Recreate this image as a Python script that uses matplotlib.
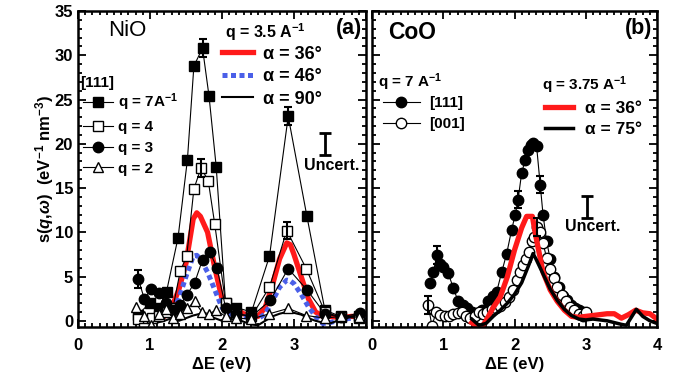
import matplotlib.pyplot as plt
from matplotlib.lines import Line2D
from matplotlib.ticker import MultipleLocator

plt.rcParams['font.family'] = ['Liberation Sans', 'DejaVu Sans']
plt.rcParams['font.weight'] = 'bold'
plt.rcParams['axes.labelweight'] = 'bold'
plt.rcParams['mathtext.fontset'] = 'custom'
plt.rcParams['mathtext.rm'] = 'Liberation Sans:bold'
plt.rcParams['mathtext.it'] = 'Liberation Sans:italic:bold'
plt.rcParams['mathtext.bf'] = 'Liberation Sans:bold'

# ---- NiO (a): measured spectra along [111]
q7_x = [0.83, 1.0, 1.13, 1.23, 1.39, 1.52, 1.61, 1.73, 1.82, 1.92, 2.05, 2.2, 2.41, 2.66, 2.92, 3.18, 3.43, 3.65, 3.9]
q7_y = [0.7, 2.0, 1.5, 3.3, 9.4, 18.2, 28.8, 30.8, 25.4, 17.4, 2.0, 1.5, 1.0, 7.3, 23.1, 11.8, 1.2, 0.5, 0.5]
q4_x = [0.83, 0.92, 1.03, 1.13, 1.23, 1.32, 1.42, 1.51, 1.61, 1.71, 1.81, 1.90, 2.05, 2.2, 2.41, 2.66, 2.90, 3.17, 3.43, 3.65, 3.9]
q4_y = [0.2, -0.8, 0.3, 0.5, 1.0, 1.5, 5.6, 7.3, 14.9, 17.3, 15.8, 10.9, 2.0, 0.8, 0.5, 3.8, 10.2, 5.9, 1.0, 0.4, 0.3]
q3_x = [0.84, 0.92, 1.02, 1.12, 1.22, 1.32, 1.42, 1.51, 1.62, 1.73, 1.83, 1.93, 2.05, 2.2, 2.41, 2.67, 2.92, 3.18, 3.43, 3.65, 3.92]
q3_y = [4.7, 2.5, 3.6, 3.1, 2.0, 1.2, 1.8, 2.9, 4.3, 6.9, 7.8, 6.0, 1.5, 0.8, 0.5, 2.3, 5.9, 3.5, 0.8, 0.4, 0.9]
q2_x = [0.81, 0.92, 1.02, 1.12, 1.22, 1.32, 1.42, 1.52, 1.62, 1.72, 1.82, 1.92, 2.05, 2.2, 2.41, 2.66, 2.92, 3.17, 3.43, 3.65, 3.9]
q2_y = [1.6, 0.5, -0.5, 0.8, 1.3, 0.3, 0.8, 1.4, 2.2, 1.0, 0.8, 1.2, 0.5, 0.3, 0.2, 0.8, 1.4, 0.6, 0.3, 0.5, 0.4]

# NiO calculations, q = 3.5 A^-1
th_x = [1.0, 1.1, 1.2, 1.3, 1.4, 1.5, 1.6, 1.65, 1.7, 1.8, 1.9, 2.0, 2.1, 2.2, 2.3, 2.4, 2.5, 2.6,
        2.7, 2.8, 2.9, 2.95, 3.0, 3.1, 3.2, 3.3, 3.4, 3.5, 3.6, 3.7, 3.8, 3.9, 4.0]
a36_y = [0.2, 0.3, 0.5, 1.5, 3.5, 6.5, 11.5, 12.2, 11.8, 10.0, 6.0, 2.5, 1.5, 1.3, 0.8, 0.5, 0.5, 1.5,
         4.0, 7.0, 8.8, 8.6, 7.5, 5.0, 2.5, 1.0, 0.5, 0.5, 0.4, 0.4, 0.5, 0.5, 0.5]
a46_y = [0.2, 0.3, 0.4, 1.0, 2.5, 5.0, 7.3, 7.4, 7.0, 5.5, 3.5, 1.5, 0.8, 0.6, 0.5, 0.3, 0.2, 0.8,
         2.2, 3.8, 4.6, 4.5, 4.2, 3.0, 1.6, 0.5, -0.3, -0.2, 0.0, 0.2, 0.3, 0.2, 0.2]
a90_y = [0.2, -0.2, 0.0, 0.3, 0.0, 0.3, 0.6, 0.7, 0.8, 0.6, 0.3, 0.0, 0.3, 0.2, -0.1, -0.4, -0.5, 0.0,
         0.5, 0.8, 1.0, 1.0, 0.9, 0.7, 0.3, 0.0, -0.2, -0.3, 0.0, 0.2, 0.5, 0.6, 0.2]

# ---- CoO (b): measured spectra at q = 7 A^-1
c111_x = [0.81, 0.86, 0.91, 0.96, 1.0, 1.07, 1.14, 1.21, 1.27, 1.33, 1.40, 1.47, 1.55, 1.63, 1.70, 1.75,
          1.82, 1.89, 1.96, 2.01, 2.05, 2.10, 2.15, 2.19, 2.23, 2.26, 2.31, 2.36, 2.40, 2.45, 2.50,
          2.56, 2.62, 2.68, 2.73, 2.79, 2.85, 2.91, 2.96]
c111_y = [4.3, 5.5, 7.4, 6.4, 6.1, 5.4, 3.7, 2.2, 1.8, 1.4, 1.0, 0.8, 1.2, 2.2, 2.8, 3.3,
          5.5, 7.6, 10.3, 12.0, 13.7, 16.7, 18.2, 19.3, 19.9, 20.1, 19.7, 15.4, 12.0, 9.0, 7.0,
          5.0, 3.8, 2.8, 2.4, 1.8, 1.5, 1.2, 1.0]
c001_x = [0.79, 0.84, 0.90, 0.96, 1.02, 1.08, 1.14, 1.20, 1.26, 1.32, 1.38, 1.44, 1.50, 1.56, 1.62,
          1.68, 1.74, 1.80, 1.86, 1.92, 1.98, 2.03, 2.08, 2.12, 2.16, 2.20, 2.24, 2.28, 2.32, 2.36,
          2.40, 2.45, 2.50, 2.55, 2.60, 2.66, 2.72, 2.78, 2.84, 2.90, 2.96, 3.01]
c001_y = [1.8, -0.6, 1.0, 0.7, 0.5, 0.6, 0.8, 0.9, 1.0, 0.6, 0.3, 0.6, 1.0, 0.8, 1.0,
          1.3, 1.5, 1.7, 2.1, 2.7, 3.5, 4.6, 5.5, 6.3, 7.0, 7.8, 9.0, 9.5, 10.6, 10.0,
          8.8, 7.1, 5.9, 4.8, 3.8, 2.9, 2.2, 1.6, 1.2, 0.8, 0.6, 1.0]

# CoO calculations, q = 3.75 A^-1
b36_x = [1.40, 1.45, 1.5, 1.55, 1.6, 1.7, 1.8, 1.9, 2.0, 2.1, 2.17, 2.25, 2.3, 2.35, 2.4, 2.5, 2.6,
         2.7, 2.8, 2.9, 3.0, 3.1, 3.2, 3.3, 3.4, 3.5, 3.6, 3.7, 3.8, 3.9, 4.0]
b36_y = [-0.2, -0.5, -0.8, -0.6, 0.0, 1.5, 2.7, 5.0, 8.0, 10.5, 11.8, 11.8, 9.5, 7.5, 5.5, 3.5, 2.2,
         1.2, 0.5, 0.4, 0.5, 0.6, 0.7, 0.8, 0.8, 0.3, 0.7, 1.2, 0.9, 0.8, 0.2]
b75_x = [1.4, 1.5, 1.6, 1.7, 1.8, 1.9, 2.0, 2.1, 2.2, 2.26, 2.3, 2.4, 2.5, 2.6, 2.7, 2.8, 2.9, 3.0,
         3.1, 3.2, 3.3, 3.4, 3.5, 3.57, 3.64, 3.71, 3.8, 3.9, 4.0]
b75_y = [0.2, -0.5, -0.3, 0.5, 1.2, 2.0, 3.0, 4.3, 6.3, 7.6, 7.0, 5.3, 3.6, 2.3, 1.3, 0.6, 0.2, 0.1,
         0.2, 0.1, 0.0, -0.2, -0.4, -0.5, 0.4, 1.3, 0.5, 0.0, -0.3]

# error bars on selected points (x, y, half-width)
err_a = [(1.73, 30.8, 1.0), (2.92, 23.1, 1.0), (1.71, 17.3, 1.0), (2.90, 10.2, 1.0), (0.84, 4.7, 1.0)]
err_b = [(0.91, 7.4, 1.0), (2.05, 13.7, 1.0), (2.36, 15.4, 1.0), (0.79, 1.8, 1.0), (2.31, 10.6, 1.0)]

fig = plt.figure(figsize=(6.81, 3.81), dpi=100)
ax1 = fig.add_axes([0.1145, 0.1417, 0.4229, 0.8294])
ax2 = fig.add_axes([0.5463, 0.1417, 0.4185, 0.8294])

blue = '#4a5fe8'
red = '#ff1a1a'

# panel (a)
ax1.plot(th_x, a36_y, color=red, lw=3.8, solid_joinstyle='round')
ax1.plot(th_x, a46_y, color=blue, lw=3.6, linestyle=(0, (1, 0.7)), dash_capstyle='butt')
ax1.plot(th_x, a90_y, color='black', lw=1.5)
mk = dict(color='black', lw=0.8, markersize=7.5, markeredgewidth=1.0, markeredgecolor='black')
ax1.plot(q7_x, q7_y, marker='s', markerfacecolor='black', **mk)
ax1.plot(q4_x, q4_y, marker='s', markerfacecolor='white', **mk)
ax1.plot(q3_x, q3_y, marker='o', markerfacecolor='black', **mk)
ax1.plot(q2_x, q2_y, marker='^', markerfacecolor='white', **mk)
for x, y, e in err_a:
    ax1.errorbar(x, y, yerr=e, fmt='none', ecolor='black', elinewidth=1.5, capsize=3, capthick=1.5)

# panel (b)
ax2.plot(c111_x, c111_y, marker='o', markerfacecolor='black', **mk)
ax2.plot(c001_x, c001_y, marker='o', markerfacecolor='white', **mk)
ax2.plot(b36_x, b36_y, color=red, lw=3.8)
ax2.plot(b75_x, b75_y, color='black', lw=2.5)
for x, y, e in err_b:
    ax2.errorbar(x, y, yerr=e, fmt='none', ecolor='black', elinewidth=1.5, capsize=3, capthick=1.5)

# uncertainty markers
ax1.errorbar(3.43, 20.0, yerr=1.25, fmt='none', ecolor='black', elinewidth=2, capsize=4, capthick=2)
ax1.text(3.53, 17.6, 'Uncert.', fontsize=11.5, ha='center', va='center')
ax2.errorbar(3.02, 12.9, yerr=1.25, fmt='none', ecolor='black', elinewidth=2, capsize=4, capthick=2)
ax2.text(3.1, 10.6, 'Uncert.', fontsize=11.5, ha='center', va='center')

for ax in (ax1, ax2):
    ax.set_xlim(0, 4)
    ax.set_ylim(-0.7, 35)
    ax.xaxis.set_major_locator(MultipleLocator(1))
    ax.xaxis.set_minor_locator(MultipleLocator(0.1))
    ax.yaxis.set_major_locator(MultipleLocator(5))
    ax.yaxis.set_minor_locator(MultipleLocator(1))
    ax.tick_params(which='both', direction='in', top=True, right=True, width=1.3, labelsize=12)
    ax.tick_params(which='major', length=6)
    ax.tick_params(which='minor', length=3)
    ax.tick_params(axis='x', pad=8)
    for s in ax.spines.values():
        s.set_linewidth(1.8)
    ax.set_xlabel('ΔE (eV)', fontsize=12, labelpad=3)

ax1.set_xticks([0, 1, 2, 3, 4])
ax1.set_xticklabels(['0', '1', '2', '3', ''])
ax1.set_ylabel(r's($q$,$\omega$)  (eV$^{-1}$ nm$^{-3}$)', fontsize=12, labelpad=-1)
ax2.tick_params(labelleft=False)

ax1.text(0.42, 32.8, 'NiO', fontsize=16, fontweight='normal', va='center')
ax1.text(3.95, 33.0, '(a)', fontsize=15.5, ha='right', va='center')
ax2.text(0.22, 32.6, 'CoO', fontsize=16.5, va='center')
ax2.text(3.93, 33.0, '(b)', fontsize=15.5, ha='right', va='center')

# legend titles
ax1.text(0.03, 26.9, '[111]', fontsize=11, va='center')
ax1.text(2.04, 32.6, r'q = 3.5 A$^{-1}$', fontsize=11.5, va='center')
ax2.text(0.08, 27.0, r'q = 7 A$^{-1}$', fontsize=11, va='center')
ax2.text(2.38, 26.6, r'q = 3.75 A$^{-1}$', fontsize=11, va='center')

leg_kw = dict(frameon=False, borderpad=0, borderaxespad=0, labelspacing=0.45)

h_a1 = [Line2D([], [], color='black', lw=0.8, marker='s', mfc='black', mec='black', ms=7.5),
        Line2D([], [], color='black', lw=0.8, marker='s', mfc='white', mec='black', ms=7.5),
        Line2D([], [], color='black', lw=0.8, marker='o', mfc='black', mec='black', ms=7.5),
        Line2D([], [], color='black', lw=0.8, marker='^', mfc='white', mec='black', ms=7.5)]
l_a1 = [r'q = 7A$^{-1}$', 'q = 4', 'q = 3', 'q = 2']
leg1 = ax1.legend(h_a1, l_a1, loc='upper left', bbox_to_anchor=(0.017, 0.745), fontsize=11,
                  handlelength=2.0, handletextpad=0.3, **leg_kw)
ax1.add_artist(leg1)

h_a2 = [Line2D([], [], color=red, lw=3.8),
        Line2D([], [], color=blue, lw=3.6, linestyle=(0, (1, 0.7)), dash_capstyle='butt'),
        Line2D([], [], color='black', lw=1.5)]
l_a2 = ['α = 36°', 'α = 46°', 'α = 90°']
ax1.legend(h_a2, l_a2, loc='upper left', bbox_to_anchor=(0.5, 0.89), fontsize=13,
           handlelength=1.7, handletextpad=0.6, labelspacing=0.3,
           frameon=False, borderpad=0, borderaxespad=0)

h_b1 = [Line2D([], [], color='black', lw=0.8, marker='o', mfc='black', mec='black', ms=7.5),
        Line2D([], [], color='black', lw=0.8, marker='o', mfc='white', mec='black', ms=7.5)]
leg3 = ax2.legend(h_b1, ['[111]', '[001]'], loc='upper left', bbox_to_anchor=(0.039, 0.73),
                  fontsize=11, handlelength=2.4, handletextpad=0.6, **leg_kw)
ax2.add_artist(leg3)

h_b2 = [Line2D([], [], color=red, lw=3.8), Line2D([], [], color='black', lw=2.5)]
ax2.legend(h_b2, ['α = 36°', 'α = 75°'], loc='upper left', bbox_to_anchor=(0.607, 0.715),
           fontsize=12.5, handlelength=1.6, handletextpad=0.7, labelspacing=0.3,
           frameon=False, borderpad=0, borderaxespad=0)

fig.savefig('out.png', dpi=100)
